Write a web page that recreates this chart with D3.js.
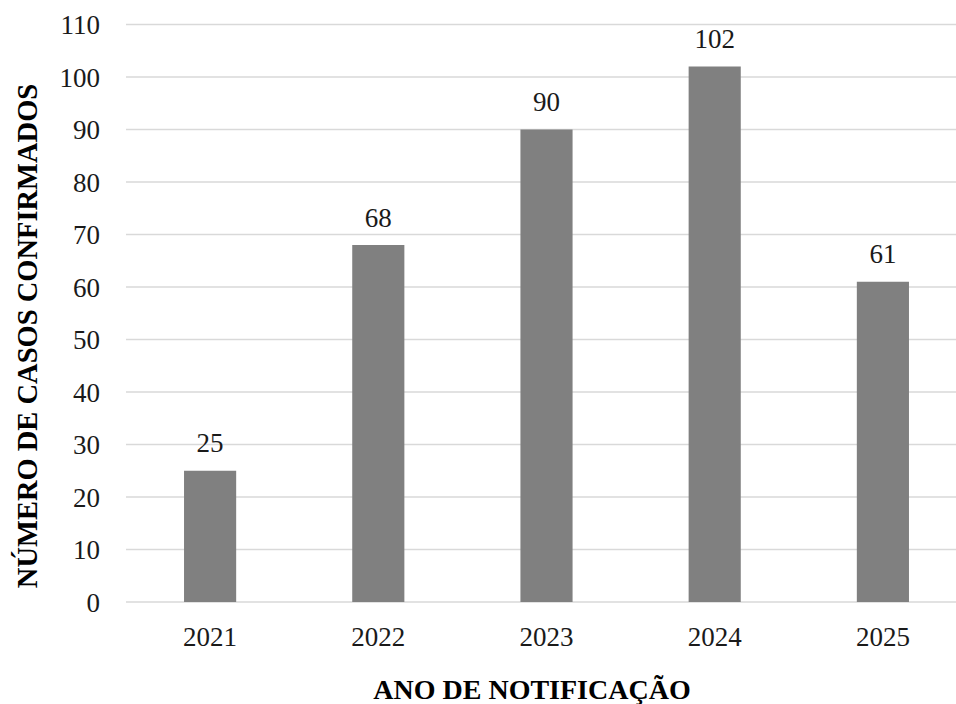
<!DOCTYPE html>
<html>
<head>
<meta charset="utf-8">
<script src="https://cdn.jsdelivr.net/npm/d3@7/dist/d3.min.js"></script>
<style>
  html, body { margin: 0; padding: 0; background: #fff; }
  svg { display: block; }
</style>
</head>
<body>
<svg id="chart" width="956" height="704"></svg>
<script>
// Confirmed cases per notification year
const years = ["2021", "2022", "2023", "2024", "2025"];
const cases = [25, 68, 90, 102, 61];
const yTicks = [0, 10, 20, 30, 40, 50, 60, 70, 80, 90, 100, 110];

const FONT = "Liberation Serif";
const svg = d3.select("#chart");
const plotLeft = 126, plotRight = 967, plotTop = 24.5, plotBottom = 602;

const x = d3.scaleBand().domain(years).range([plotLeft, plotRight])
  .paddingInner(0.69).paddingOuter(0.345);
const y = d3.scaleLinear().domain([0, 110]).range([plotBottom, plotTop]);

// horizontal gridlines
svg.append("g").selectAll("line").data(yTicks).join("line")
  .attr("x1", plotLeft).attr("x2", plotRight)
  .attr("y1", d => y(d)).attr("y2", d => y(d))
  .attr("stroke", "#d9d9d9").attr("stroke-width", 1.3);

// y tick labels
const yAxis = d3.axisLeft(y).tickValues(yTicks).tickSize(0).tickPadding(0);
const gy = svg.append("g").attr("transform", "translate(100,0)").call(yAxis)
  .attr("font-family", null).attr("font-size", null);
gy.select(".domain").remove();
gy.selectAll("text").style("font-family", FONT).style("font-size", "27px")
  .attr("dy", "0.34em").attr("fill", "#1a1a1a");

// bars
svg.append("g").selectAll("rect").data(years).join("rect")
  .attr("x", d => x(d))
  .attr("width", x.bandwidth())
  .attr("y", (d, i) => y(cases[i]))
  .attr("height", (d, i) => y(0) - y(cases[i]))
  .attr("fill", "#808080");

// value labels
svg.append("g").selectAll("text").data(years).join("text")
  .attr("x", d => x(d) + x.bandwidth() / 2)
  .attr("y", (d, i) => y(cases[i]) - 18.5)
  .attr("text-anchor", "middle")
  .style("font-family", FONT).style("font-size", "27px")
  .attr("fill", "#1a1a1a")
  .text((d, i) => cases[i]);

// x tick labels
const xAxis = d3.axisBottom(x).tickSize(0).tickPadding(0);
const gx = svg.append("g").attr("transform", `translate(0,${plotBottom})`).call(xAxis)
  .attr("font-family", null).attr("font-size", null);
gx.select(".domain").remove();
gx.selectAll("text").style("font-family", FONT).style("font-size", "27px")
  .attr("y", 44).attr("dy", 0).attr("fill", "#1a1a1a");

// axis titles
svg.append("text")
  .attr("x", 532).attr("y", 699)
  .attr("text-anchor", "middle")
  .style("font-family", FONT).style("font-size", "28px").style("font-weight", "bold")
  .attr("fill", "#000")
  .text("ANO DE NOTIFICAÇÃO");

svg.append("text")
  .attr("transform", "translate(37,336) rotate(-90)")
  .attr("text-anchor", "middle")
  .style("font-family", FONT).style("font-size", "28.5px").style("font-weight", "bold")
  .attr("fill", "#000")
  .text("NÚMERO DE CASOS CONFIRMADOS");
</script>
</body>
</html>
